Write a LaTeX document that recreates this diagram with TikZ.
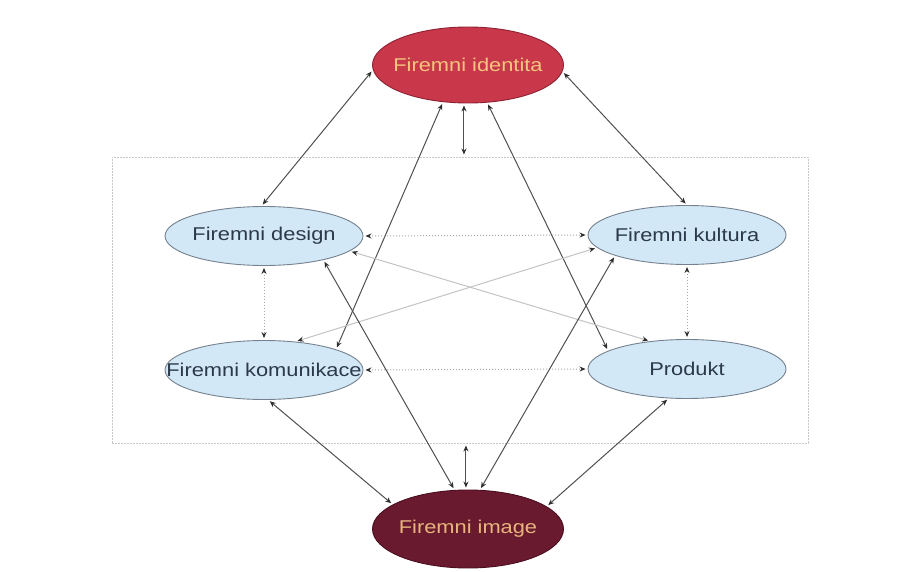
\documentclass[tikz,border=0pt]{standalone}
\usepackage{fontspec}
\setmainfont[FakeStretch=1.18]{Liberation Sans}
\usetikzlibrary{shapes.geometric,arrows.meta}
\definecolor{idfill}{HTML}{C8374A}
\definecolor{iddraw}{HTML}{8E2233}
\definecolor{idtext}{HTML}{F6C57E}
\definecolor{imfill}{HTML}{6A1A2E}
\definecolor{imdraw}{HTML}{4A0F1F}
\definecolor{imtext}{HTML}{E7B57C}
\definecolor{bluefill}{HTML}{D3E8F6}
\definecolor{bluedraw}{HTML}{75818F}
\definecolor{bluetext}{HTML}{2B3A4A}
\definecolor{linegray}{HTML}{505050}
\definecolor{tipgray}{HTML}{2E2E2E}
\definecolor{faintgray}{HTML}{C4C4C4}
\definecolor{dotgray}{HTML}{A8A8A8}
\definecolor{boxgray}{HTML}{C8C8C8}
\begin{document}
\begin{tikzpicture}[x=1pt,y=-1pt,
  lbl/.style={font=\fontsize{18.5}{21}\selectfont},
  softnode/.style={ellipse, draw=bluedraw, fill=bluefill, text=bluetext, line width=0.9pt,
    minimum width=198pt, minimum height=59pt, inner sep=0pt, lbl},
  idnode/.style={ellipse, draw=iddraw, fill=idfill, text=idtext, line width=0.9pt,
    minimum width=191pt, minimum height=76pt, inner sep=0pt, lbl},
  imnode/.style={ellipse, draw=imdraw, fill=imfill, text=imtext, line width=0.9pt,
    minimum width=191pt, minimum height=78pt, inner sep=0pt, lbl},
  tip/.tip={Stealth[length=6pt,width=5pt,color=tipgray]},
  link/.style={draw=linegray, line width=1pt, tip-tip, shorten <=2pt, shorten >=2pt},
  faint/.style={link, draw=faintgray},
  dots/.style={link, draw=dotgray, dotted}]
\fill[white] (0,0) rectangle (897,572);
\useasboundingbox (0,0) rectangle (897,572);

\node[draw=boxgray, line width=0.9pt, dash pattern=on 2pt off 1pt, minimum width=696pt,
  minimum height=286pt, inner sep=0pt] (box) at (460,300) {};

\node[idnode] (ident) at (468,65) {\makebox[0pt]{Firemni identita}};
\node[imnode] (image) at (468,529) {\makebox[0pt]{Firemni image}};
\node[softnode] (design) at (264,236) {\makebox[0pt]{Firemni design}};
\node[softnode] (kultura) at (687,235) {\makebox[0pt]{Firemni kultura}};
\node[softnode] (komun) at (264,370) {\makebox[0pt]{Firemni komunikace}};
\node[softnode] (produkt) at (687,369) {\makebox[0pt]{Produkt}};

% identity links
\draw[link] (ident.183) -- (design.95);
\draw[link] (ident.356) -- (kultura.90);
\draw[link] (ident.236) -- (komun.16);
\draw[link] (ident.297) -- (produkt.167);
\draw[link] (ident.264) -- (ident.264 |- box.north);

% inner links
\draw[dots] (design.east) -- (kultura.west);
\draw[dots] (komun.east) -- (produkt.west);
\draw[dots] (design.south) -- (komun.north);
\draw[dots] (kultura.south) -- (produkt.north);
\draw[faint] (design.350) -- (produkt.143);
\draw[faint] (kultura.188) -- (komun.42);

% image links
\draw[link] (design.338) -- (image.109);
\draw[link] (kultura.196) -- (image.73);
\draw[link] (komun.278) -- (image.162);
\draw[link] (produkt.238) -- (image.16);
\draw[link] (box.south -| image.93) -- (image.93);
\end{tikzpicture}
\end{document}
